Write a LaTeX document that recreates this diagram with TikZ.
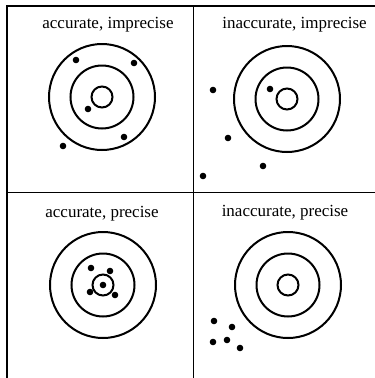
\documentclass[tikz,border=0pt]{standalone}
\usepackage{fontspec}
\setmainfont{Liberation Serif}
\tikzset{
  ring/.style={line width=2pt},
  shot/.style={fill=black},
  frame/.style={line width=2pt},
  divider/.style={line width=1.5pt},
  lbl/.style={anchor=base, inner sep=0pt, font=\fontsize{17}{19}\selectfont}
}
\newcommand{\target}[2]{%
  \draw[ring] (#1,#2) circle (53);
  \draw[ring] (#1,#2) circle (31.5);
  \draw[ring] (#1,#2) circle (10.5);
}
\newcommand{\hit}[2]{\fill[shot] (#1,#2) circle (3.3);}
\begin{document}
\begin{tikzpicture}[x=1pt,y=-1pt]
\useasboundingbox (0,0) rectangle (375,378);
% frame
\draw[frame] (7,378) -- (7,6) -- (375,6);
\draw[divider] (193.5,6) -- (193.5,378);
\draw[divider] (7,192.5) -- (375,192.5);
% labels
\node[lbl] (l1) at (108,28) {accurate, imprecise};
\node[lbl] (l2) at (294.5,28) {inaccurate, imprecise};
\node[lbl] (l3) at (102,217) {accurate, precise};
\node[lbl] (l4) at (285,216) {inaccurate, precise};
% targets
\target{102}{97}
\target{287}{99}
\target{103}{285}
\target{288}{285}
% shots: accurate, imprecise
\hit{76}{60}\hit{134}{63}\hit{88}{109}\hit{124}{137}\hit{63}{146}
% inaccurate, imprecise
\hit{213}{90}\hit{270}{89}\hit{228}{138}\hit{263}{166}\hit{203}{176}
% accurate, precise
\hit{91}{268}\hit{110}{271}\hit{103}{285}\hit{90}{292}\hit{115}{295}
% inaccurate, precise
\hit{214}{321}\hit{232}{327}\hit{213}{342}\hit{227}{340}\hit{240}{348}
\end{tikzpicture}
\end{document}
